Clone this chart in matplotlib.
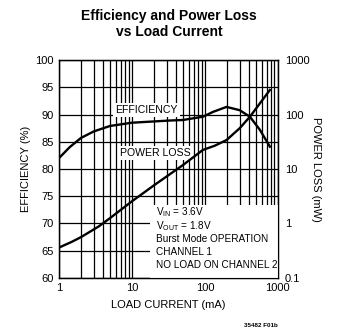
import numpy as np
import matplotlib
matplotlib.use("Agg")
import matplotlib.pyplot as plt
from matplotlib.ticker import NullLocator

plt.rcParams['font.family'] = ['Liberation Sans', 'DejaVu Sans']

# efficiency curve (left axis)
eff_current = [1, 1.4, 2, 3, 5, 10, 33, 50, 94, 130, 198, 300, 414, 567, 778]
eff_values = [82.0, 84.0, 85.7, 86.9, 87.9, 88.5, 88.9, 89.0, 89.6, 90.5, 91.4, 90.8, 89.6, 87.2, 84.1]

# power loss curve (right axis, mW)
loss_current = [1, 1.5, 2, 3.5, 5, 10, 20, 50, 94, 137, 198, 300, 414, 567, 778]
loss_values = [0.36, 0.46, 0.56, 0.88, 1.25, 2.55, 5.0, 11.8, 22.4, 26.8, 34, 56, 91, 160, 282]

left_ticks = [60, 65, 70, 75, 80, 85, 90, 95, 100]
right_ticks = [0.1, 1, 10, 100, 1000]
right_labels = ['0.1', '1', '10', '100', '1000']
x_ticks = [1, 10, 100, 1000]
x_labels = ['1', '10', '100', '1000']

notes = ['V$_{\\mathregular{IN}}$ = 3.6V', 'V$_{\\mathregular{OUT}}$ = 1.8V',
         'Burst Mode OPERATION', 'CHANNEL 1', 'NO LOAD ON CHANNEL 2']

fig = plt.figure(figsize=(3.43, 3.32), dpi=100)
ax = fig.add_axes([0.172, 0.163, 0.638, 0.656])

ax.set_xscale('log')
ax.set_xlim(1, 1000)
ax.set_ylim(60, 100)
ax.set_yticks(left_ticks)
ax.set_xticks(x_ticks)
ax.set_xticklabels(x_labels)
ax.tick_params(which='both', length=0, labelsize=8, pad=4)
ax.set_axisbelow(True)
ax.grid(which='both', axis='x', color='black', lw=0.9)
ax.grid(which='major', axis='y', color='black', lw=0.9)
for s in ax.spines.values():
    s.set_linewidth(1.0)

ax.plot(eff_current, eff_values, color='black', lw=1.7, zorder=4)

ax2 = ax.twinx()
ax2.set_yscale('log')
ax2.set_ylim(0.1, 1000)
ax2.set_yticks(right_ticks)
ax2.set_yticklabels(right_labels)
ax2.yaxis.set_minor_locator(NullLocator())
ax2.tick_params(axis='y', which='both', length=0, labelsize=8, pad=5)
ax2.plot(loss_current, loss_values, color='black', lw=1.7, zorder=4)

# white box for the conditions text
ax2.add_patch(plt.Rectangle((0.415, 0.0), 0.585, 0.335, transform=ax.transAxes,
                            facecolor='white', edgecolor='none', zorder=2))
for i, line in enumerate(notes):
    ax2.text(0.445, 0.3 - i * 0.06, line, transform=ax.transAxes,
             fontsize=7.2, va='center', ha='left', zorder=3)

ax.text(5.9, 90.8, 'EFFICIENCY', fontsize=7.6, va='center', ha='left', zorder=3,
        bbox=dict(facecolor='white', edgecolor='none', pad=1.5))
ax.text(6.9, 82.9, 'POWER LOSS', fontsize=7.6, va='center', ha='left', zorder=3,
        bbox=dict(facecolor='white', edgecolor='none', pad=1.5))

ax.set_xlabel('LOAD CURRENT (mA)', fontsize=8, labelpad=5)
ax.set_ylabel('EFFICIENCY (%)', fontsize=8, labelpad=3)
ax2.set_ylabel('POWER LOSS (mW)', fontsize=8, rotation=270, labelpad=8)

fig.text(0.493, 0.928, 'Efficiency and Power Loss\nvs Load Current', ha='center', va='center',
         fontsize=10, fontweight='bold', linespacing=1.2)
fig.text(0.76, 0.02, '35482 F01b', ha='center', va='center', fontsize=4.5, fontweight='bold')

fig.savefig('out.png', dpi=100)
